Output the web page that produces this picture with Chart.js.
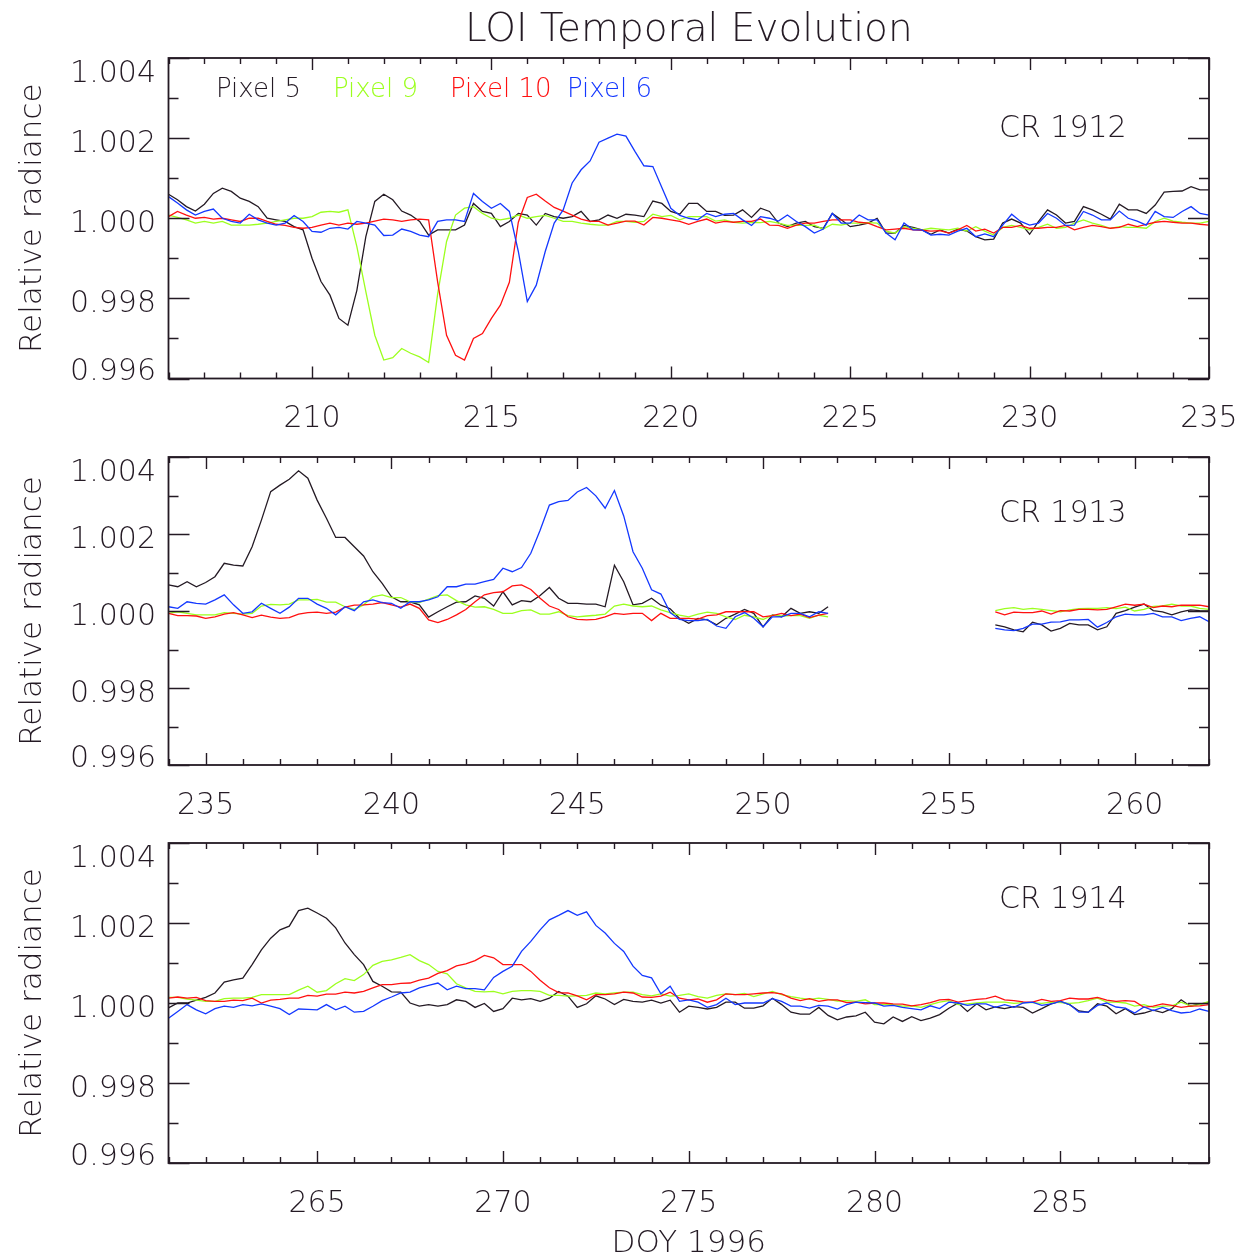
<!DOCTYPE html>
<html>
<head>
<meta charset="utf-8">
<script src="https://cdn.jsdelivr.net/npm/chart.js@4.4.1/dist/chart.umd.min.js"></script>
<style>
html,body{margin:0;padding:0;background:#fff;}
body{width:1249px;height:1255px;position:relative;overflow:hidden;}
canvas{position:absolute;left:0;}
</style>
</head>
<body>
<canvas id="c1" width="1249" height="440" style="top:0px"></canvas>
<canvas id="c2" width="1249" height="390" style="top:440px"></canvas>
<canvas id="c3" width="1249" height="425" style="top:830px"></canvas>
<script>
// ---------------- DATA ----------------
// Values are (relative radiance - 1) in units of 1e-5, sampled every 0.25 day.
const DAY_STEP = 0.25;
const seriesNames = ['Pixel 5', 'Pixel 9', 'Pixel 10', 'Pixel 6'];
const crLabels = ['CR 1912', 'CR 1913', 'CR 1914'];
const yTickLabels = ['0.996', '0.998', '1.000', '1.002', '1.004'];
const xTicks1912 = [210, 215, 220, 225, 230, 235];
const xTicks1913 = [235, 240, 245, 250, 255, 260];
const xTicks1914 = [265, 270, 275, 280, 285];

// CR 1912 : DOY 206.00 .. 235.00
const start1912 = 206;
const p5_1912 = [60,46,29,18,35,62,75,67,50,42,29,0,-4,-8,-21,-29,-100,-158,-192,-250,-267,-180,-46,42,60,46,18,8,-8,-42,-29,-29,-29,-17,37,17,12,-21,-8,12,
  8,-17,12,4,0,4,17,-8,-4,8,0,10,8,4,43,37,17,10,37,37,17,17,7,8,21,2,25,17,-12,-21,-12,-8,-21,-25,12,-4,-21,-17,
  -12,0,-37,-37,-18,-23,-29,-40,-29,-37,-27,-32,-46,-54,-52,-12,-2,-12,-40,-8,21,8,-12,-8,29,21,10,-2,35,21,21,12,33,65,67,68,79,71,71];
const p9_1912 = [8,2,-4,-12,-8,-12,-8,-17,-17,-17,-15,-12,-8,-4,0,0,4,15,17,15,21,-71,-183,-292,-354,-348,-325,-337,-346,-360,-190,-58,8,25,29,12,0,-4,0,8,
  0,4,7,0,-8,-8,-12,-15,-17,-17,-8,-8,-10,-8,10,4,7,-4,4,4,4,-7,-4,-10,-12,-10,-11,-8,-12,-18,-17,-18,-17,-27,-15,-17,-12,-12,
  -11,-12,-32,-37,-21,-25,-29,-25,-27,-29,-25,-32,-21,-32,-42,-23,-18,-23,-29,-23,-15,-25,-23,-12,-4,-12,-18,-25,-21,-23,-23,-25,-8,0,-7,-10,-12,-12,-8];
const p10_1912 = [4,17,8,0,2,-2,0,-4,-8,0,0,-8,-15,-18,-23,-25,-23,-17,-12,-17,-12,-15,-12,-7,-2,-4,-8,-4,-2,-4,-158,-292,-342,-354,-300,-288,-250,-217,-160,-10,
  52,60,43,27,18,8,-2,-8,-8,-17,-12,-7,-7,-17,2,0,-4,-8,-15,-8,-2,-12,-8,-10,-8,-8,-2,-17,-18,-25,-17,-12,-12,-8,-4,-4,-4,-10,
  -12,-21,-29,-27,-25,-29,-30,-32,-31,-37,-29,-18,-32,-27,-37,-23,-23,-18,-25,-25,-23,-23,-18,-29,-23,-18,-21,-25,-23,-15,-21,-15,-10,-8,-10,-12,-12,-15,-17];
const p6_1912 = [54,38,21,8,17,23,0,-8,-12,10,-4,-12,-17,-12,7,-8,-33,-35,-25,-23,-27,-8,-12,-17,-43,-42,-27,-33,-42,-46,-8,-4,-4,-8,62,42,25,37,17,-83,
  -208,-167,-83,-12,21,88,121,143,190,200,210,205,167,131,129,77,25,7,0,-4,12,4,10,12,-4,-18,4,0,-7,8,-8,-21,-37,-27,12,-12,-12,8,
  -4,-4,-37,-54,-12,-29,-29,-42,-40,-42,-32,-25,-46,-39,-46,-17,10,-8,-17,-12,12,0,-18,-17,17,8,-4,-4,18,0,-7,-17,17,4,2,17,29,12,8];

// CR 1913 : DOY 234.00 .. 251.75, data gap, 256.25 .. 262.00
const start1913a = 234;
const start1913b = 256.25;
const p5_1913a = [68,63,76,63,74,89,124,119,117,167,236,310,327,342,364,345,288,241,191,191,167,143,102,72,37,24,24,16,-16,-2,11,23,24,39,33,13,50,16,
  27,24,40,61,33,20,20,18,18,11,119,76,16,20,33,15,6,-19,-32,-19,-23,-36,-19,-8,4,-6,-41,-10,-15,7,-6,-2,-6,11];
const p5_1913b = [-36,-41,-49,-54,-29,-36,-52,-45,-32,-36,-36,-49,-41,-6,1,10,18,1,-2,-10,-2,3,1,0];
const p9_1913a = [-6,-2,-6,-10,-10,-10,-4,-6,-8,-6,13,17,16,18,29,29,30,23,23,11,4,16,37,42,35,35,24,22,31,40,42,27,16,10,11,4,-6,-6,
  1,3,-8,-8,-2,-12,-15,-13,-11,-8,13,18,13,11,13,3,-4,-11,-15,-8,-3,-6,-15,-22,-11,-15,-22,-11,-13,-12,-12,-19,-11,-15];
const p9_1913b = [1,6,9,4,7,4,1,-2,3,6,7,7,9,6,10,0,4,12,13,18,13,13,7,4];
const p10_1913a = [-6,-12,-12,-13,-19,-15,-8,-4,-10,-17,-11,-16,-19,-17,-8,-4,-3,-6,-3,10,15,16,18,22,16,10,18,7,-23,-30,-22,-10,4,24,42,48,50,65,
  68,56,33,13,4,-15,-22,-23,-22,-15,-6,-9,-6,-6,-25,-6,-19,-19,-19,-21,-12,-10,-2,-2,-2,-2,-15,-12,-6,-12,-8,-17,-11,-6];
const p10_1913b = [-2,-10,-3,-4,-4,0,-8,1,0,4,4,3,4,11,18,15,18,9,13,11,15,15,15,11];
const p6_1913a = [11,7,24,20,18,29,42,16,-6,-2,20,7,-6,10,33,33,18,7,-10,11,1,24,29,22,20,7,24,24,29,37,63,63,70,70,76,82,111,102,
  113,150,210,275,284,287,309,321,299,267,313,247,154,111,55,44,-4,-22,-25,-25,-22,-39,-45,-15,-4,-19,-41,-15,-15,-6,-6,-15,-2,-6];
const p6_1913b = [-45,-49,-51,-45,-34,-34,-29,-28,-23,-23,-22,-42,-30,-15,-8,-10,-10,-6,-15,-15,-25,-19,-15,-28];

// CR 1914 : DOY 261.00 .. 289.00
const start1914 = 261;
const p5_1914 = [-12,0,0,7,14,25,52,58,62,96,133,162,183,192,231,237,225,212,188,150,121,96,54,42,28,27,0,-8,-4,-8,-4,8,4,-11,-1,-21,-14,12,
  8,11,4,12,29,17,-11,-2,18,10,-4,9,4,2,7,0,7,-23,-8,-11,-15,-11,2,2,-13,-13,-7,12,-4,-23,-28,-28,-11,-31,-42,-35,-32,-23,
  -48,-52,-35,-46,-34,-44,-38,-29,-13,0,-21,-2,-17,-10,-14,-9,-11,-25,-14,-2,4,-4,-20,-23,-2,-8,-27,-14,-29,-25,-18,-24,-14,8,-8,-2,0];
const p9_1914 = [14,14,10,7,4,4,11,12,12,14,21,21,21,21,32,42,27,31,48,61,56,71,94,104,108,114,121,106,96,79,73,48,38,29,28,29,23,29,
  31,31,29,19,19,17,18,19,25,23,25,27,27,21,18,23,17,19,23,16,12,19,23,21,24,16,23,29,21,16,12,9,12,9,5,6,4,8,
  -4,-4,-4,-8,-7,-11,-4,2,6,-4,-2,0,2,2,2,-1,1,1,-1,2,1,-1,1,6,12,2,2,0,-8,-4,-11,-8,-7,2,-7,-4,4];
const p10_1914 = [12,15,12,14,6,4,4,7,6,12,0,7,9,12,12,19,17,22,22,27,25,29,38,46,46,49,50,57,62,74,81,93,98,106,119,113,96,96,
  96,79,57,38,26,25,18,8,21,21,23,27,25,15,14,17,27,12,8,10,2,8,23,21,21,23,25,26,23,12,6,11,4,8,8,1,2,-2,
  0,0,-2,-3,-7,-4,1,8,9,2,6,9,11,17,8,6,3,2,9,4,6,12,10,10,14,7,4,6,4,-11,-8,-2,-6,-11,-8,-7,-4];
const p6_1914 = [-38,-21,-4,-17,-27,-14,-8,-11,-4,-7,-2,-8,-14,-29,-15,-16,-17,-4,-17,-8,-23,-21,-8,6,15,25,27,38,44,50,33,42,36,36,33,64,79,92,
  129,154,183,208,219,231,219,228,194,175,149,129,92,69,63,23,42,4,8,2,-11,-4,12,-4,0,0,0,11,4,-8,-8,-13,-6,-8,-15,-4,2,1,
  0,-8,-6,-11,-14,-17,-7,-14,2,0,-6,-2,-2,-11,-4,-11,0,2,-6,-2,4,-4,-23,-23,-6,0,-10,-13,-25,-10,-19,-11,-19,-25,-23,-15,-21];

// ---------------- STYLE ----------------
const INK = '#241a24';
const COLORS = [INK, '#9cff1e', '#ff1010', '#1438ff'];
const FONT_FAMILY = '"DejaVu Sans", "Liberation Sans", sans-serif';
const FW = '200 ';

function toPoints(start, vals) {
  return vals.map((v, i) => ({ x: start + i * DAY_STEP, y: 1 + v * 1e-5 }));
}
function joinGap(a, b) {
  return a.concat([{ x: (a[a.length - 1].x + b[0].x) / 2, y: null }], b);
}

const panels = [
  {
    id: 'c1', xMin: 206, xMax: 235, xTicks: xTicks1912, cr: crLabels[0], crBaseline: 137,
    pad: { top: 58, bottom: 61.5 }, title: true, legend: true,
    series: [toPoints(start1912, p5_1912), toPoints(start1912, p9_1912), toPoints(start1912, p10_1912), toPoints(start1912, p6_1912)]
  },
  {
    id: 'c2', xMin: 234, xMax: 262, xTicks: xTicks1913, cr: crLabels[1], crBaseline: 82,
    pad: { top: 17, bottom: 65 },
    series: [
      joinGap(toPoints(start1913a, p5_1913a), toPoints(start1913b, p5_1913b)),
      joinGap(toPoints(start1913a, p9_1913a), toPoints(start1913b, p9_1913b)),
      joinGap(toPoints(start1913a, p10_1913a), toPoints(start1913b, p10_1913b)),
      joinGap(toPoints(start1913a, p6_1913a), toPoints(start1913b, p6_1913b))
    ]
  },
  {
    id: 'c3', xMin: 261, xMax: 289, xTicks: xTicks1914, cr: crLabels[2], crBaseline: 78,
    pad: { top: 13, bottom: 92 }, xTitle: 'DOY 1996',
    series: [toPoints(start1914, p5_1914), toPoints(start1914, p9_1914), toPoints(start1914, p10_1914), toPoints(start1914, p6_1914)]
  }
];

const framePlugin = {
  id: 'idlFrame',
  afterDraw(chart, args, opts) {
    const p = opts.panel;
    const { ctx, chartArea } = chart;
    const { left, right, top, bottom } = chartArea;
    const xs = chart.scales.x, ys = chart.scales.y;
    ctx.save();
    ctx.strokeStyle = INK;
    ctx.fillStyle = INK;
    // frame
    ctx.lineWidth = 1.8;
    ctx.strokeRect(left, top, right - left, bottom - top);
    // x ticks (every day, major every 5)
    ctx.lineWidth = 1.4;
    ctx.beginPath();
    for (let d = Math.ceil(xs.min); d <= xs.max; d++) {
      const px = Math.round(xs.getPixelForValue(d)) + 0.5;
      const len = d % 5 === 0 ? 12 : 6;
      ctx.moveTo(px, bottom); ctx.lineTo(px, bottom - len);
      ctx.moveTo(px, top); ctx.lineTo(px, top + len);
    }
    // y ticks every 0.001, major every 0.002
    for (let k = 0; k <= 8; k++) {
      const v = 0.996 + k * 0.001;
      const py = Math.round(ys.getPixelForValue(v)) + 0.5;
      const len = k % 2 === 0 ? 21 : 10;
      ctx.moveTo(left, py); ctx.lineTo(left + len, py);
      ctx.moveTo(right, py); ctx.lineTo(right - len, py);
    }
    ctx.stroke();

    // y tick labels
    ctx.font = FW + '30px ' + FONT_FAMILY;
    ctx.textAlign = 'right';
    ctx.textBaseline = 'alphabetic';
    yTickLabels.forEach(lbl => {
      const py = ys.getPixelForValue(parseFloat(lbl));
      const base = Math.min(Math.max(py + 13.5, top + 23.5), bottom + 1.5);
      ctx.fillText(lbl, 156, base);
    });
    // x tick labels
    ctx.textAlign = 'center';
    p.xTicks.forEach(d => {
      ctx.fillText(String(d), xs.getPixelForValue(d), bottom + 48.5);
    });
    // CR label
    ctx.textAlign = 'left';
    ctx.fillText(p.cr, 999, p.crBaseline);
    // y axis title
    ctx.save();
    ctx.font = FW + '31px ' + FONT_FAMILY;
    ctx.translate(41, (top + bottom) / 2);
    ctx.rotate(-Math.PI / 2);
    ctx.textAlign = 'center';
    ctx.fillText('Relative radiance', 0, 0);
    ctx.restore();
    // legend
    if (p.legend) {
      ctx.font = FW + '26px ' + FONT_FAMILY;
      ctx.textAlign = 'left';
      seriesNames.forEach((name, i) => {
        ctx.fillStyle = COLORS[i];
        ctx.fillText(name, 216 + i * 117, 97);
      });
      ctx.fillStyle = INK;
    }
    // main title
    if (p.title) {
      ctx.font = FW + '39px ' + FONT_FAMILY;
      ctx.textAlign = 'center';
      ctx.fillText('LOI Temporal Evolution', (left + right) / 2, 41);
    }
    // x axis title
    if (p.xTitle) {
      ctx.font = FW + '31px ' + FONT_FAMILY;
      ctx.textAlign = 'center';
      ctx.fillText(p.xTitle, (left + right) / 2, 422);
    }
    ctx.restore();
  }
};

panels.forEach(p => {
  const datasets = p.series.map((pts, i) => ({
    label: seriesNames[i],
    data: pts,
    borderColor: COLORS[i],
    backgroundColor: COLORS[i],
    borderWidth: 1.3,
    pointRadius: 0,
    tension: 0,
    fill: false,
    spanGaps: false,
    order: 4 - i
  }));
  new Chart(document.getElementById(p.id), {
    type: 'line',
    data: { datasets },
    options: {
      responsive: false,
      animation: false,
      devicePixelRatio: 1,
      parsing: true,
      layout: { padding: { left: 168.5, right: 40, top: p.pad.top, bottom: p.pad.bottom } },
      plugins: {
        legend: { display: false },
        tooltip: { enabled: false },
        title: { display: false },
        idlFrame: { panel: p }
      },
      scales: {
        x: { type: 'linear', min: p.xMin, max: p.xMax, display: false },
        y: { type: 'linear', min: 0.996, max: 1.004, display: false }
      }
    },
    plugins: [framePlugin]
  });
});
</script>
</body>
</html>
